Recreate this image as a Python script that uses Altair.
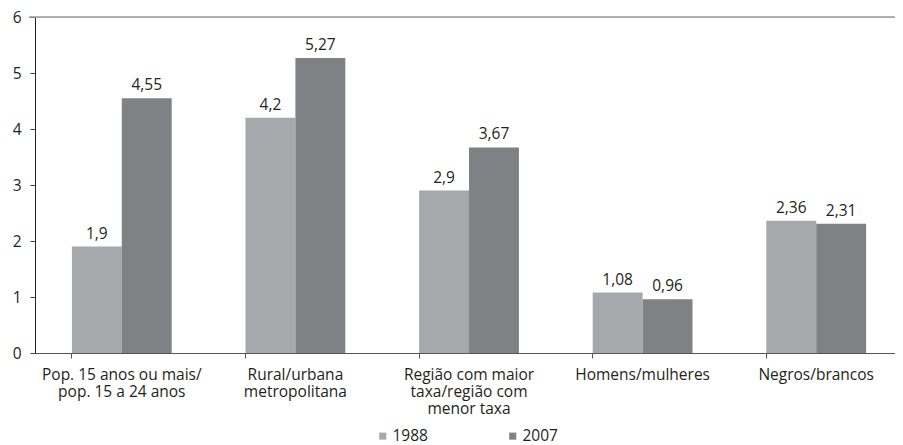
import altair as alt
import pandas as pd

categories = ["Pop. 15 anos ou mais/|pop. 15 a 24 anos", "Rural/urbana|metropolitana",
              "Região com maior|taxa/região com|menor taxa", "Homens/mulheres", "Negros/brancos"]
years = ["1988", "2007"]
v1988 = [1.9, 4.2, 2.9, 1.08, 2.36]
v2007 = [4.55, 5.27, 3.67, 0.96, 2.31]

rows = []
for c, a, b in zip(categories, v1988, v2007):
    rows.append({"cat": c, "ano": "1988", "v": a, "lab": str(a).replace(".", ",")})
    rows.append({"cat": c, "ano": "2007", "v": b, "lab": str(b).replace(".", ",")})
df = pd.DataFrame(rows)

W, H = 860, 336
RW = 868
FONT = "Open Sans"
TXT = "#231f20"
FS = 15.5

xenc = alt.X("cat:N", sort=categories, title=None,
             scale=alt.Scale(paddingInner=0.425, paddingOuter=0.2125, range=[0, RW]),
             axis=alt.Axis(labelExpr="split(datum.label, '|')", labelAngle=0,
                           labelFontSize=FS, labelColor=TXT, labelFont=FONT,
                           labelPadding=9, labelLineHeight=17, labelBaseline="top",
                           domainColor="#555", tickColor="#555", tickSize=5,
                           bandPosition=0, labelLimit=300))
yenc = alt.Y("v:Q", title=None,
             scale=alt.Scale(domain=[0, 6], nice=False),
             axis=alt.Axis(values=[0, 1, 2, 3, 4, 5, 6], grid=False,
                           labelFontSize=FS, labelColor=TXT, labelFont=FONT,
                           labelPadding=9, tickSize=5, tickColor="#444",
                           domainColor="#222", labelExpr="datum.value"))

color = alt.Color("ano:N", sort=years,
                  scale=alt.Scale(domain=years, range=["#a7a8ab", "#808184"]),
                  legend=alt.Legend(title=None, orient="none", legendX=340, legendY=411,
                                    direction="horizontal", symbolType="square",
                                    symbolSize=50, symbolStrokeWidth=0,
                                    labelFontSize=FS, labelColor=TXT, labelFont=FONT,
                                    columnPadding=77, labelOffset=2))

bars = alt.Chart(df).mark_bar().encode(
    x=xenc, y=yenc, xOffset=alt.XOffset("ano:N", sort=years), color=color)

texts = alt.Chart(df).mark_text(dy=-8, baseline="alphabetic", fontSize=FS, color=TXT, font=FONT).encode(
    x=alt.X("cat:N", sort=categories), y="v:Q",
    xOffset=alt.XOffset("ano:N", sort=years), text="lab:N")

top = alt.Chart(pd.DataFrame({"y": [6]})).mark_rule(color="#999", strokeWidth=1.5).encode(
    y="y:Q", x=alt.value(-6), x2=alt.value(RW))

chart = alt.layer(bars, texts, top).properties(
    width=W, height=H,
    autosize=alt.AutoSizeParams(type="none"),
    padding={"left": 27, "top": 9, "right": 0, "bottom": 92},
).configure_view(stroke=None).configure(font=FONT)

chart.save("out.html", embed_options={"renderer": "svg", "actions": False})
